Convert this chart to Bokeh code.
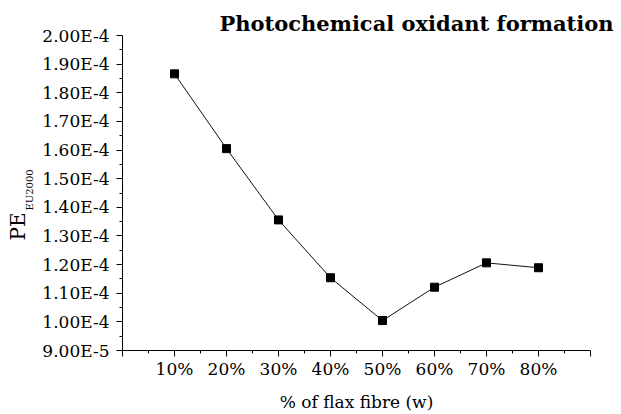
from bokeh.plotting import figure
from bokeh.models import Range1d, FixedTicker, Title
from bokeh.embed import file_html
from bokeh.resources import INLINE

# ---- data ----
categories = ["10%", "20%", "30%", "40%", "50%", "60%", "70%", "80%"]
pe_values = [1.866e-4, 1.605e-4, 1.356e-4, 1.154e-4, 1.0045e-4, 1.121e-4, 1.206e-4, 1.189e-4]
y_ticks = [9.0e-5, 1.0e-4, 1.1e-4, 1.2e-4, 1.3e-4, 1.4e-4, 1.5e-4, 1.6e-4, 1.7e-4, 1.8e-4, 1.9e-4, 2.0e-4]
y_tick_labels = ["9.00E-5", "1.00E-4", "1.10E-4", "1.20E-4", "1.30E-4", "1.40E-4",
                 "1.50E-4", "1.60E-4", "1.70E-4", "1.80E-4", "1.90E-4", "2.00E-4"]
title_text = "Photochemical oxidant formation"
x_title = "% of flax fibre (w)"
y_title_main = "PE"
y_title_sub = "EU2000"

x_pos = list(range(1, len(categories) + 1))
x_ticks = list(range(0, len(categories) + 2))
x_minor = [t + 0.5 for t in x_ticks[:-1]]
y_minor = [(a + b) / 2 for a, b in zip(y_ticks[:-1], y_ticks[1:])]

FONT = "DejaVu Serif"

p = figure(width=621, height=414, output_backend="svg", toolbar_location=None,
           x_range=Range1d(0, len(categories) + 1), y_range=Range1d(y_ticks[0], y_ticks[-1]),
           min_border_left=122, min_border_right=31, min_border_top=35, min_border_bottom=63)
p.outline_line_color = None
p.grid.visible = False
p.background_fill_color = "white"
p.border_fill_color = "white"

p.line(x_pos, pe_values, line_color="#111111", line_width=1)
p.scatter(x_pos, pe_values, marker="square", size=8, fill_color="black", line_color="black")

# x axis
xa = p.xaxis[0]
xa.ticker = FixedTicker(ticks=x_ticks, minor_ticks=x_minor)
overrides = {t: "" for t in x_ticks}
for xp, c in zip(x_pos, categories):
    overrides[xp] = c
xa.major_label_overrides = overrides
xa.major_tick_out = 6
xa.major_tick_in = 0
xa.minor_tick_out = 3
xa.minor_tick_in = 0
xa.major_label_standoff = 2
xa.major_label_text_font = FONT
xa.major_label_text_font_size = "17px"
xa.major_label_text_color = "black"
xa.axis_line_color = "black"
xa.major_tick_line_color = "black"
xa.minor_tick_line_color = "black"
xa.axis_label = x_title
xa.axis_label_text_font = FONT
xa.axis_label_text_font_size = "17px"
xa.axis_label_text_font_style = "normal"
xa.axis_label_text_color = "black"
xa.axis_label_standoff = 10

# y axis
ya = p.yaxis[0]
ya.ticker = FixedTicker(ticks=y_ticks, minor_ticks=y_minor)
ya.major_label_overrides = {t: l for t, l in zip(y_ticks, y_tick_labels)}
ya.major_tick_out = 6
ya.major_tick_in = 0
ya.minor_tick_out = 3
ya.minor_tick_in = 0
ya.major_label_standoff = 7
ya.major_label_text_font = FONT
ya.major_label_text_font_size = "17px"
ya.major_label_text_color = "black"
ya.axis_line_color = "black"
ya.major_tick_line_color = "black"
ya.minor_tick_line_color = "black"

# title
p.title.text = title_text
p.title.align = "right"
p.title.offset = -23
p.title.standoff = 0
p.title.text_font = FONT
p.title.text_font_style = "bold"
p.title.text_font_size = "21px"
p.title.text_color = "black"

# y axis title "PE" with subscript "EU2000"
sub_title = Title(text=y_title_sub, align="left", offset=140, standoff=10,
                  text_font=FONT, text_font_size="10px", text_font_style="normal",
                  text_color="black")
main_title = Title(text=y_title_main, align="left", offset=110, standoff=-26,
                   text_font=FONT, text_font_size="20px", text_font_style="normal",
                   text_color="black")
p.add_layout(sub_title, "left")
p.add_layout(main_title, "left")

open("out.html", "w").write(file_html(p, INLINE))
